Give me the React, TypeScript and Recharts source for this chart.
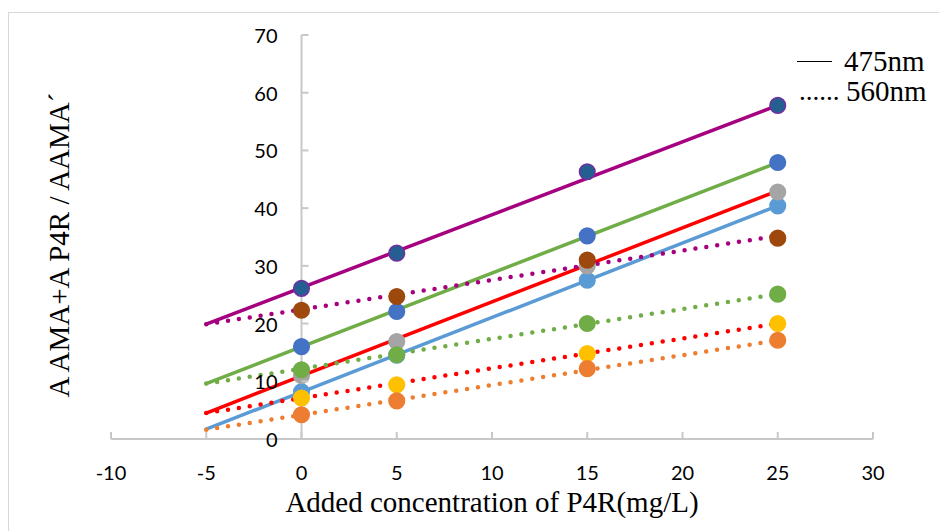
import React from "react";
import {
  ComposedChart,
  Line,
  Scatter,
  XAxis,
  YAxis,
  ReferenceLine,
  Label,
} from "recharts";

// measured concentrations (mg/L)
const xPoints = [0, 5, 15, 25];
// trend lines are drawn from -5 to 25
const trendX = [-5, 25];

// 475nm series
const s475a = [26.1, 32.2, 46.3, 57.8];
const s475b = [16.0, 22.1, 35.2, 47.9];
const s475c = [11.0, 16.9, 30.0, 42.8];
const s475d = [8.2, 14.5, 27.5, 40.4];
// 560nm series
const s560a = [22.3, 24.7, 31.0, 34.8];
const s560b = [12.0, 14.6, 20.0, 25.1];
const s560c = [7.1, 9.4, 14.8, 20.0];
const s560d = [4.2, 6.6, 12.2, 17.1];

// trend line values at x = -5 and x = 25
const t475a = [19.9, 57.8];
const t475b = [9.6, 47.9];
const t475c = [4.5, 43.0];
const t475d = [1.7, 40.4];
const t560a = [19.9, 35.2];
const t560b = [9.6, 25.1];
const t560c = [4.5, 20.0];
const t560d = [1.6, 17.1];

const xTicks = [-10, -5, 0, 5, 10, 15, 20, 25, 30];
const yTicks = [0, 10, 20, 30, 40, 50, 60, 70];

const X_MIN = -10;
const X_MAX = 30;
const W = 939;
const H = 519;
const Y_AXIS_W = 1;
const MARGIN = { top: 22, right: 75, bottom: 12, left: 101 };
const PLOT_W = W - MARGIN.left - Y_AXIS_W - MARGIN.right;

const AXIS_GREY = "#C8C8C8";
const TICK_FONT = "Lato, 'Noto Sans', sans-serif";
const SERIF = "'Liberation Serif', 'DejaVu Serif', serif";

const series = [
  { id: "475d", points: s475d, trend: t475d, marker: "#5B9BD5", ring: "#5B9BD5", line: "#5B9BD5", dotted: false },
  { id: "475c", points: s475c, trend: t475c, marker: "#A5A5A5", ring: "#A5A5A5", line: "#FF0000", dotted: false },
  { id: "475b", points: s475b, trend: t475b, marker: "#4472C4", ring: "#4472C4", line: "#70AD47", dotted: false },
  { id: "475a", points: s475a, trend: t475a, marker: "#255E91", ring: "#7030A0", line: "#A5007F", dotted: false },
  { id: "560a", points: s560a, trend: t560a, marker: "#9E480E", ring: "#9E480E", line: "#A5007F", dotted: true },
  { id: "560b", points: s560b, trend: t560b, marker: "#70AD47", ring: "#70AD47", line: "#70AD47", dotted: true },
  { id: "560c", points: s560c, trend: t560c, marker: "#FFC000", ring: "#FFC000", line: "#FF0000", dotted: true },
  { id: "560d", points: s560d, trend: t560d, marker: "#ED7D31", ring: "#ED7D31", line: "#ED7D31", dotted: true },
];

const toRows = (xs: number[], ys: number[]) => xs.map((x, i) => ({ x, y: ys[i] }));

function XTick(props: any) {
  const { x, y, payload } = props;
  return (
    <g>
      <line x1={x} x2={x} y1={y} y2={y - 7} stroke={AXIS_GREY} strokeWidth={2} />
      <text
        x={x}
        y={y + 33}
        textAnchor="middle"
        dominantBaseline="central"
        fontFamily={TICK_FONT}
        fontSize={20}
        fill="#000"
      >
        {payload.value}
      </text>
    </g>
  );
}

function YTick(props: any) {
  const { y, payload } = props;
  // y axis crosses the x axis at x = 0
  const axisX = MARGIN.left + Y_AXIS_W + (PLOT_W * (0 - X_MIN)) / (X_MAX - X_MIN);
  return (
    <g>
      <line x1={axisX} x2={axisX + 7} y1={y} y2={y} stroke={AXIS_GREY} strokeWidth={2} />
      <text
        x={axisX - 24}
        y={y}
        textAnchor="end"
        dominantBaseline="central"
        fontFamily={TICK_FONT}
        fontSize={20}
        fill="#000"
      >
        {payload.value}
      </text>
    </g>
  );
}

function YTitle() {
  const cx = 50;
  const cy = 232;
  return (
    <text
      x={cx}
      y={cy}
      transform={`rotate(-90, ${cx}, ${cy})`}
      textAnchor="middle"
      dominantBaseline="central"
      fontFamily={SERIF}
      fontSize={29}
      fill="#000"
    >
      A AMA+A P4R / AAMA´
    </text>
  );
}

export default function App() {
  return (
    <div
      style={{
        position: "relative",
        marginTop: 4,
        width: W,
        height: H,
        borderLeft: "1px solid #D9D9D9",
        borderTop: "1px solid #D9D9D9",
        background: "#fff",
      }}
    >
      <ComposedChart width={W} height={H} margin={MARGIN}>
        <XAxis
          type="number"
          dataKey="x"
          domain={[X_MIN, X_MAX]}
          ticks={xTicks}
          allowDataOverflow
          height={81}
          tickSize={0}
          tickMargin={0}
          tickLine={false}
          axisLine={{ stroke: AXIS_GREY, strokeWidth: 2 }}
          tick={<XTick />}
        >
          <Label
            value="Added concentration of P4R(mg/L)"
            position="insideBottom"
            offset={8}
            style={{ fontFamily: SERIF, fontSize: 29, fill: "#000" }}
          />
        </XAxis>
        <YAxis
          type="number"
          dataKey="y"
          domain={[0, 70]}
          ticks={yTicks}
          width={Y_AXIS_W}
          tickSize={0}
          tickMargin={0}
          tickLine={false}
          axisLine={false}
          interval={0}
          tick={<YTick />}
        />
        <ReferenceLine x={0} stroke={AXIS_GREY} strokeWidth={2} />
        {series.map((s) => (
          <Scatter
            key={`m-${s.id}`}
            data={toRows(xPoints, s.points)}
            dataKey="y"
            isAnimationActive={false}
            shape={(p: any) => (
              <circle cx={p.cx} cy={p.cy} r={7.8} fill={s.marker} stroke={s.ring} strokeWidth={1.5} />
            )}
          />
        ))}
        {series.map((s) => (
          <Line
            key={`t-${s.id}`}
            data={toRows(trendX, s.trend)}
            dataKey="y"
            type="linear"
            stroke={s.line}
            strokeWidth={s.dotted ? 4.5 : 3.5}
            strokeDasharray={s.dotted ? "0 11" : undefined}
            strokeLinecap="round"
            dot={false}
            activeDot={false}
            isAnimationActive={false}
          />
        ))}
      </ComposedChart>
      <svg
        width={100}
        height={H}
        style={{ position: "absolute", left: 0, top: 0, pointerEvents: "none" }}
      >
        <YTitle />
      </svg>
      <div
        style={{
          position: "absolute",
          left: 788,
          top: 33,
          fontFamily: SERIF,
          fontSize: 29,
          color: "#000",
          lineHeight: "30px",
        }}
      >
        <div style={{ display: "flex", alignItems: "center" }}>
          <span style={{ display: "inline-block", width: 35, borderTop: "1px solid #000", marginRight: 12 }} />
          <span>475nm</span>
        </div>
        <div style={{ display: "flex", alignItems: "center" }}>
          <span style={{ display: "inline-block", width: 47, marginLeft: 2, fontSize: 27 }}>......</span>
          <span>560nm</span>
        </div>
      </div>
    </div>
  );
}
